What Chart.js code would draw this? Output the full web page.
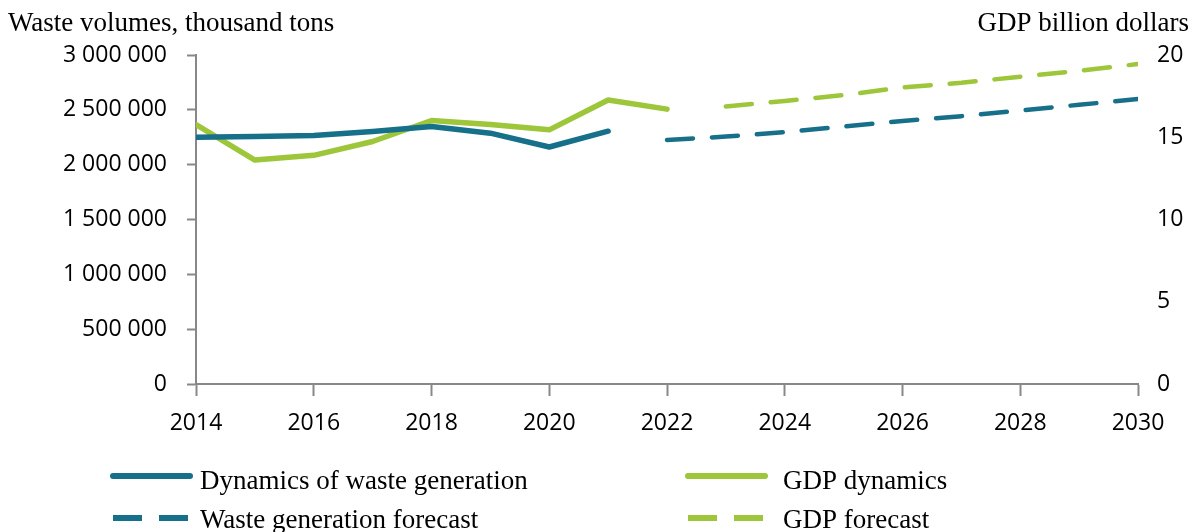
<!DOCTYPE html>
<html>
<head>
<meta charset="utf-8">
<script src="https://cdn.jsdelivr.net/npm/chart.js@4.4.1/dist/chart.umd.min.js"></script>
<style>
  html, body { margin: 0; padding: 0; background: #fff; }
  #wrap { width: 1197px; height: 532px; }
</style>
</head>
<body>
<div id="wrap"><canvas id="chart" width="1197" height="532"></canvas></div>
<script>
// Waste generation (thousand tons, left axis) and GDP (billion dollars, right axis)
const wasteYears = [2014, 2015, 2016, 2017, 2018, 2019, 2020, 2021];
const wasteValues = [2250000, 2256000, 2265000, 2302000, 2348000, 2287000, 2161000, 2305000];

const gdpYears = [2014, 2015, 2016, 2017, 2018, 2019, 2020, 2021, 2022];
const gdpValues = [15.77, 13.61, 13.90, 14.74, 16.02, 15.77, 15.45, 17.26, 16.71];

const wasteForecastYears = [2022, 2023, 2024, 2025, 2026, 2027, 2028, 2029, 2030];
const wasteForecastValues = [2225000, 2256000, 2296000, 2348000, 2399000, 2442000, 2494000, 2546000, 2598000];

const gdpForecastYears = [2023, 2024, 2025, 2026, 2027, 2028, 2029, 2030];
const gdpForecastValues = [16.87, 17.21, 17.56, 18.03, 18.31, 18.68, 19.04, 19.45];

const seriesNames = [
  'Dynamics of waste generation',
  'Waste generation forecast',
  'GDP dynamics',
  'GDP forecast'
];
const leftAxisTitle = 'Waste volumes, thousand tons';
const rightAxisTitle = 'GDP billion dollars';

const TEAL = '#17708a';
const GREEN = '#9dc63b';
const AXIS = '#888888';
const SERIF = '27px "Liberation Serif", "Times New Roman", serif';
const TICK_FONT = { family: '"Open Sans", sans-serif', size: 23 };

const pairs = (xs, ys) => xs.map((x, i) => ({ x, y: ys[i] }));
const spaced = v => String(v).replace(/\B(?=(\d{3})+(?!\d))/g, ' ');

// Axis captions above the plot and a two-column legend below it
const annotations = {
  id: 'annotations',
  afterDraw(chart) {
    const ctx = chart.ctx;
    ctx.save();
    ctx.fillStyle = '#000';
    ctx.font = SERIF;
    ctx.textBaseline = 'alphabetic';
    ctx.textAlign = 'left';
    ctx.fillText(leftAxisTitle, 8, 31);
    ctx.textAlign = 'right';
    ctx.fillText(rightAxisTitle, 1189, 31);

    const slots = [
      { ds: 0, x: 113, y: 476, dy: 13 },
      { ds: 1, x: 113, y: 518, dy: 10 },
      { ds: 2, x: 688, y: 476, dy: 13 },
      { ds: 3, x: 688, y: 518, dy: 10 }
    ];
    slots.forEach(s => {
      const d = chart.data.datasets[s.ds];
      ctx.beginPath();
      ctx.strokeStyle = d.borderColor;
      ctx.lineWidth = 6;
      if (d.borderDash && d.borderDash.length) {
        ctx.setLineDash([29, 17]);
        ctx.lineCap = 'butt';
      } else {
        ctx.setLineDash([]);
        ctx.lineCap = 'round';
      }
      ctx.moveTo(s.x, s.y);
      ctx.lineTo(s.x + 77, s.y);
      ctx.stroke();
      ctx.setLineDash([]);
      ctx.textAlign = 'left';
      ctx.fillStyle = '#000';
      ctx.fillText(d.label, s.x + (s.ds < 2 ? 87 : 95), s.y + s.dy);
    });
    ctx.restore();
  }
};

new Chart(document.getElementById('chart'), {
  type: 'line',
  data: {
    datasets: [
      {
        label: seriesNames[0],
        data: pairs(wasteYears, wasteValues),
        yAxisID: 'y',
        borderColor: TEAL,
        borderWidth: 5.5,
        borderJoinStyle: 'round',
        borderCapStyle: 'round'
      },
      {
        label: seriesNames[1],
        data: pairs(wasteForecastYears, wasteForecastValues),
        yAxisID: 'y',
        borderColor: TEAL,
        borderWidth: 4.5,
        borderDash: [26, 19],
        borderCapStyle: 'round'
      },
      {
        label: seriesNames[2],
        data: pairs(gdpYears, gdpValues),
        yAxisID: 'y1',
        borderColor: GREEN,
        borderWidth: 5.5,
        borderJoinStyle: 'round',
        borderCapStyle: 'round'
      },
      {
        label: seriesNames[3],
        data: pairs(gdpForecastYears, gdpForecastValues),
        yAxisID: 'y1',
        borderColor: GREEN,
        borderWidth: 4.5,
        borderDash: [26, 19],
        borderCapStyle: 'round'
      }
    ]
  },
  options: {
    responsive: false,
    animation: false,
    devicePixelRatio: 1,
    elements: { point: { radius: 0, hoverRadius: 0 }, line: { tension: 0 } },
    layout: { padding: { top: 55, left: 0, right: 0, bottom: 0 } },
    plugins: {
      legend: { display: false },
      tooltip: { enabled: false },
      title: { display: false }
    },
    scales: {
      x: {
        type: 'linear',
        min: 2014,
        max: 2030,
        afterFit: s => { s.height = 148; },
        border: { display: true, color: AXIS, width: 2 },
        grid: { drawOnChartArea: false, drawTicks: true, tickLength: 12, tickColor: AXIS, tickWidth: 2 },
        ticks: {
          stepSize: 2,
          padding: 14,
          color: '#000',
          font: TICK_FONT,
          callback: v => String(v)
        }
      },
      y: {
        position: 'left',
        min: 0,
        max: 3000000,
        afterFit: s => { s.width = 196; },
        border: { display: true, color: AXIS, width: 2 },
        grid: { drawOnChartArea: false, drawTicks: true, tickLength: 9, tickColor: AXIS, tickWidth: 2 },
        ticks: {
          stepSize: 250000,
          padding: 20,
          color: '#000',
          font: TICK_FONT,
          callback: v => (v % 500000 === 0 ? spaced(v) : '')
        }
      },
      y1: {
        position: 'right',
        min: 0,
        max: 20,
        afterFit: s => { s.width = 59; },
        border: { display: false },
        grid: { display: false, drawTicks: false },
        ticks: {
          stepSize: 5,
          padding: 19,
          color: '#000',
          font: TICK_FONT
        }
      }
    }
  },
  plugins: [annotations]
});
</script>
</body>
</html>
